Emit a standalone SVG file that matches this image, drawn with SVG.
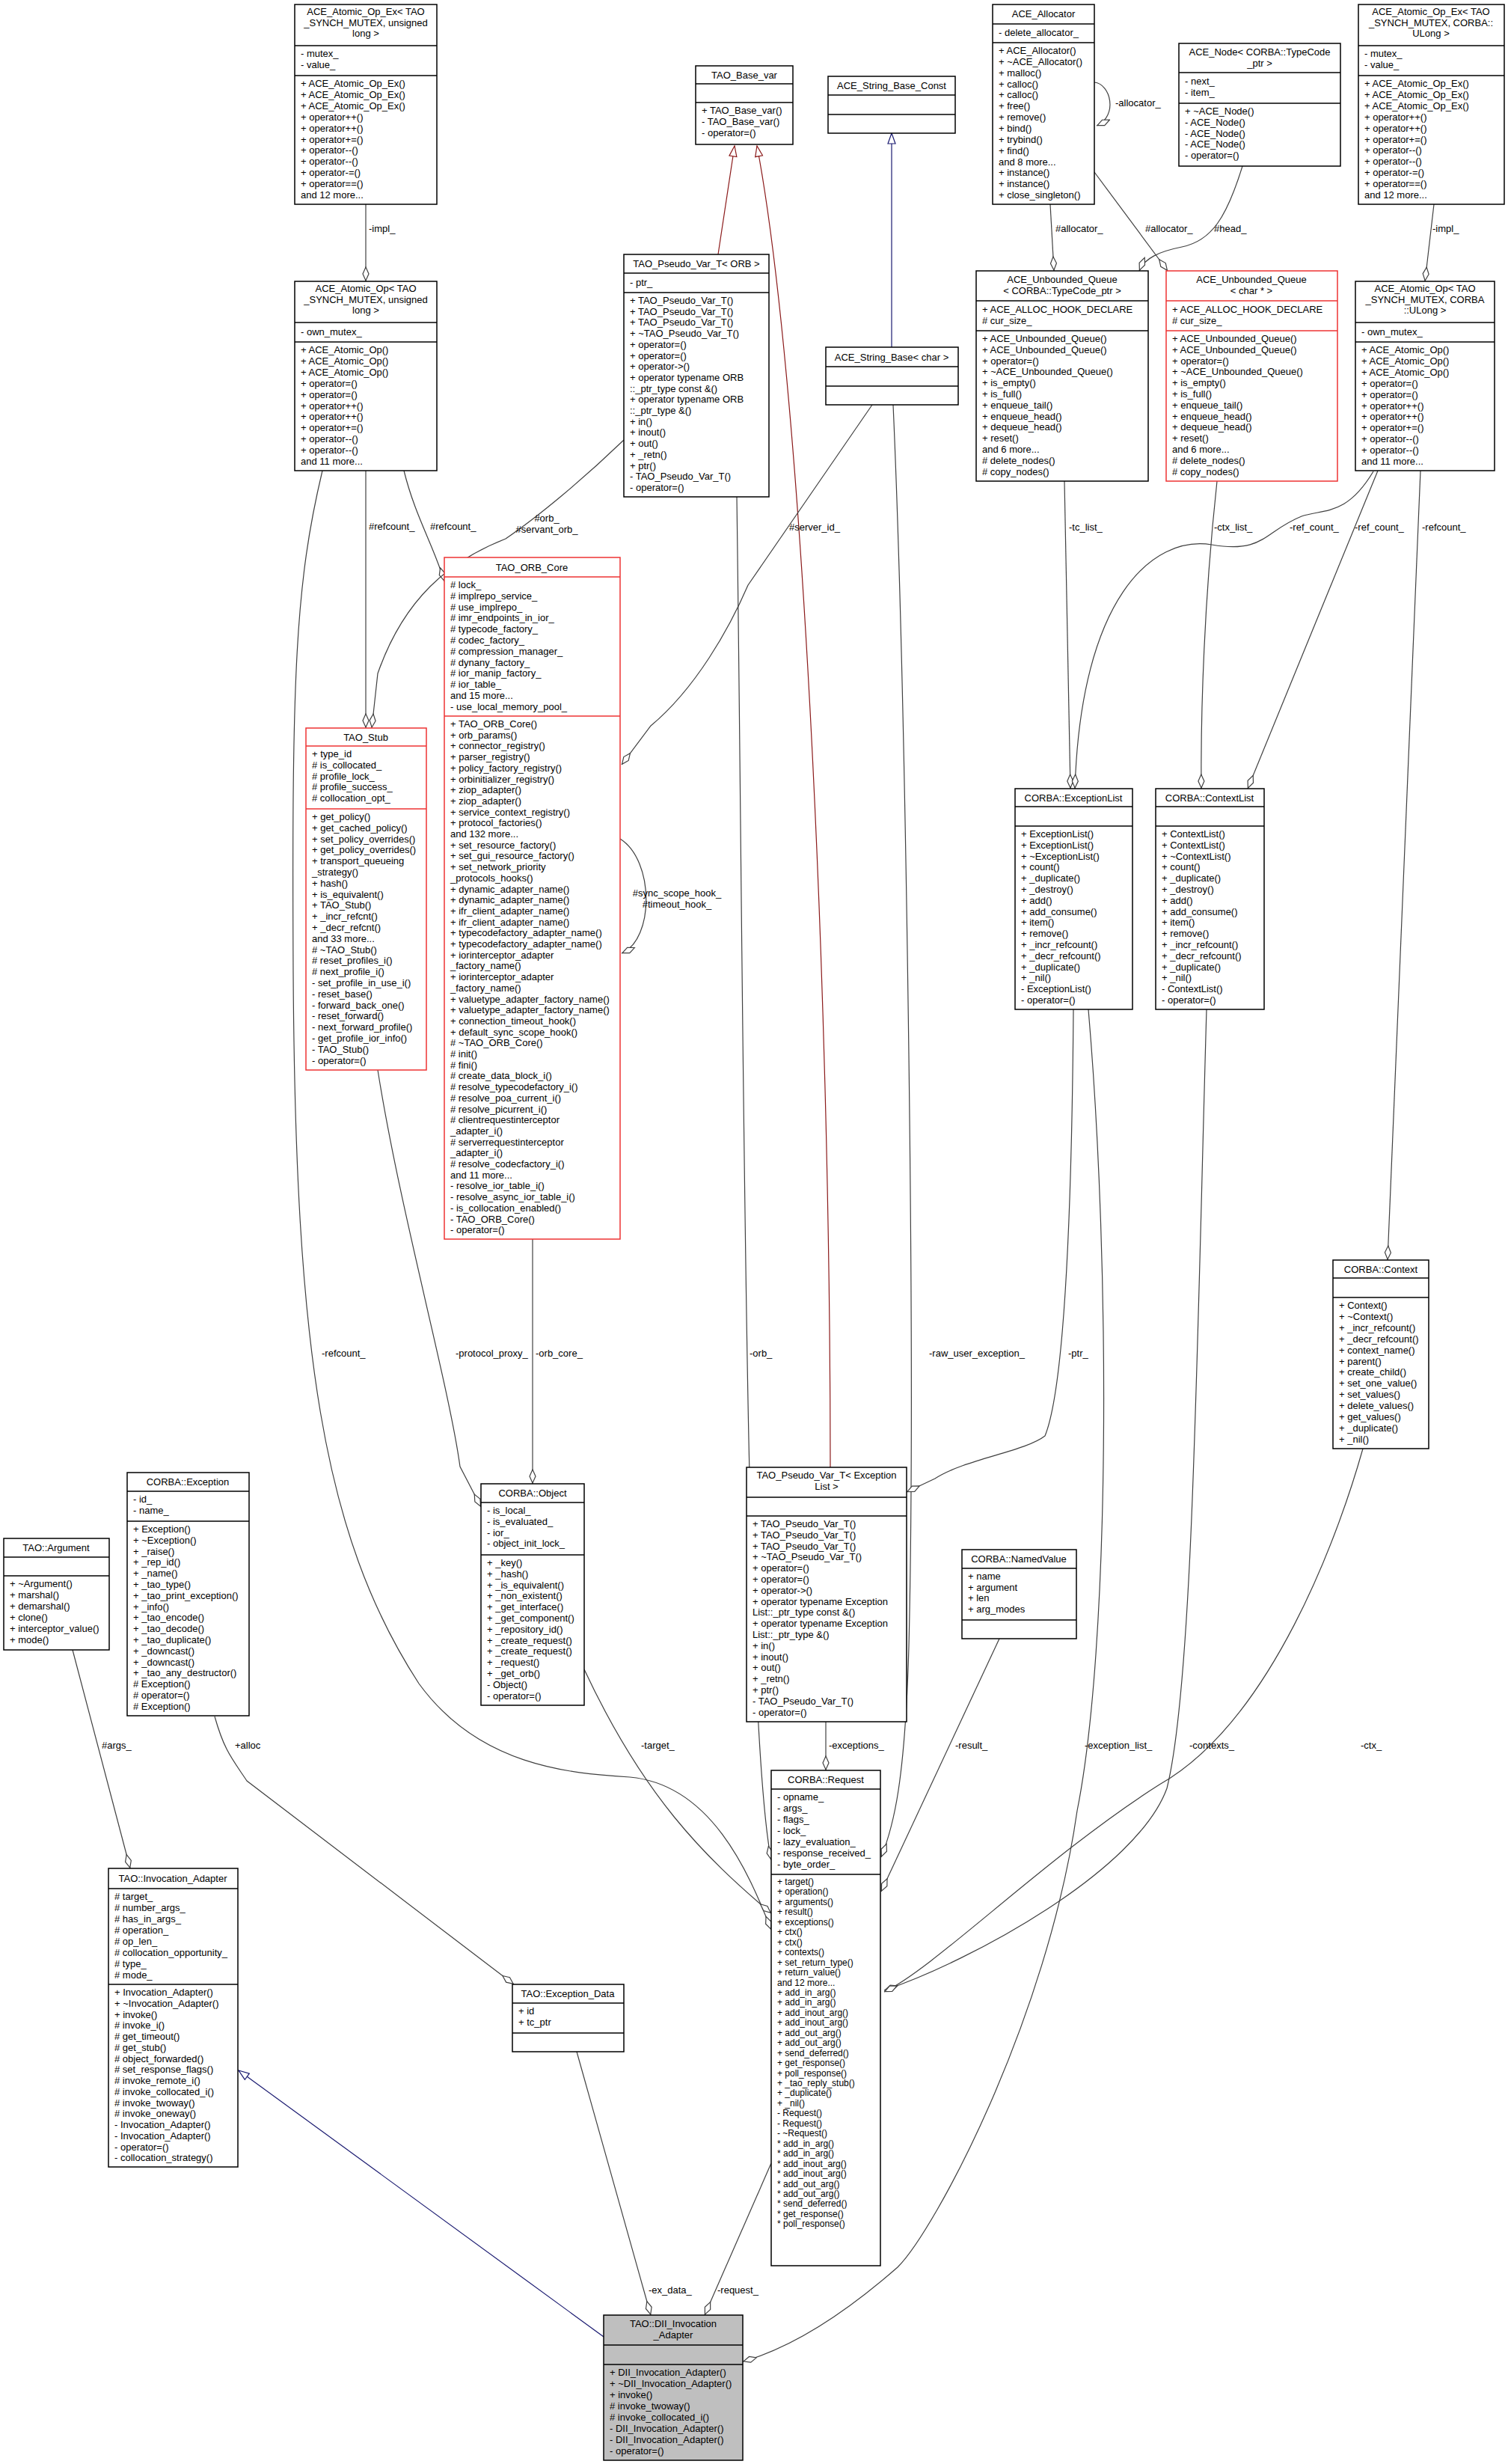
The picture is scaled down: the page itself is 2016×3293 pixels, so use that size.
<svg xmlns="http://www.w3.org/2000/svg" width="2016" height="3293" viewBox="0 0 2016 3293">
<style>
.bx{fill:#fff;stroke:#000;stroke-width:1.5}
.rd{fill:#fff;stroke:#e33;stroke-width:1.5}
.gy{fill:#bfbfbf;stroke:#000;stroke-width:1.5}
.ln{stroke:#000;stroke-width:1.5}
.lr{stroke:#e33;stroke-width:1.5}
text{font-family:"Liberation Sans",Arial,sans-serif;font-size:13px;fill:#000}
.c{text-anchor:middle}
.s{font-size:12px}
.e{fill:none;stroke:#404040;stroke-width:1.2}
.er{fill:none;stroke:#8b1a1a;stroke-width:1.2}
.eb{fill:none;stroke:#191970;stroke-width:1.2}
</style>
<defs>
<marker id="d" viewBox="0 0 20 10" refX="20" refY="5" markerWidth="20" markerHeight="10" markerUnits="userSpaceOnUse" orient="auto"><path d="M1,5 L10,1 L19,5 L10,9 Z" fill="#fff" stroke="#404040" stroke-width="1.2"/></marker>
<marker id="tr" viewBox="0 0 16 12" refX="15" refY="6" markerWidth="16" markerHeight="12" markerUnits="userSpaceOnUse" orient="auto"><path d="M1,1 L15,6 L1,11 Z" fill="#fff" stroke="#8b1a1a" stroke-width="1.2"/></marker>
<marker id="tb" viewBox="0 0 16 12" refX="15" refY="6" markerWidth="16" markerHeight="12" markerUnits="userSpaceOnUse" orient="auto"><path d="M1,1 L15,6 L1,11 Z" fill="#fff" stroke="#191970" stroke-width="1.2"/></marker>
</defs>

<g id="edges">
<path class="e" d="M489,273 L489,376" marker-end="url(#d)"/>
<path class="e" d="M1917,273 L1905,376" marker-end="url(#d)"/>
<path class="e" d="M1463,110 C1485,112 1495,155 1466,168" marker-end="url(#d)"/>
<path class="e" d="M1404,273 L1409,362" marker-end="url(#d)"/>
<path class="e" d="M1463,230 L1561,362" marker-end="url(#d)"/>
<path class="e" d="M1661,222 C1640,290 1620,322 1580,330 C1550,336 1530,345 1523,362" marker-end="url(#d)"/>
<path class="er" d="M960,340 L982,195" marker-end="url(#tr)"/>
<path class="er" d="M1110,1961 C1110,1300 1070,500 1012,195" marker-end="url(#tr)"/>
<path class="eb" d="M1192,464 L1192,178" marker-end="url(#tb)"/>
<path class="e" d="M431,629 C395,780 390,900 392,1300 C395,1800 430,2050 560,2250 C640,2360 760,2370 842,2375 C950,2385 1000,2500 1031,2579" marker-end="url(#d)"/>
<path class="e" d="M489,629 L489,973" marker-end="url(#d)"/>
<path class="e" d="M540,629 C555,690 580,730 594,777" marker-end="url(#d)"/>
<path class="e" d="M834,588 C780,640 720,690 676,720 C600,750 540,800 505,900 L497,973" marker-end="url(#d)"/>
<path class="e" d="M985,664 C995,1400 995,2300 1031,2486" marker-end="url(#d)"/>
<path class="e" d="M1166,541 L1000,782 C975,840 930,920 870,970 L831,1022" marker-end="url(#d)"/>
<path class="e" d="M1194,541 C1210,900 1225,1800 1215,2200 C1210,2380 1195,2440 1178,2482" marker-end="url(#d)"/>
<path class="e" d="M829,1121 C875,1150 875,1255 831,1274" marker-end="url(#d)"/>
<path class="e" d="M712,1656 L712,1983" marker-end="url(#d)"/>
<path class="e" d="M505,1430 C535,1620 600,1850 615,1960 L643,2014" marker-end="url(#d)"/>
<path class="e" d="M781,2231 C860,2400 940,2480 1031,2557" marker-end="url(#d)"/>
<path class="e" d="M1435,1349 C1433,1600 1425,1850 1397,1919 C1370,1940 1290,1950 1250,1976 L1212,1994" marker-end="url(#d)"/>
<path class="e" d="M1455,1349 C1485,1700 1484,2200 1440,2420 C1400,2700 1250,2980 1200,3030 C1120,3100 1050,3140 993,3156" marker-end="url(#d)"/>
<path class="e" d="M1423,643 L1431,1054" marker-end="url(#d)"/>
<path class="e" d="M1836,630 C1800,690 1770,680 1740,690 C1690,710 1690,740 1620,728 C1540,715 1445,800 1437,1054" marker-end="url(#d)"/>
<path class="e" d="M1627,643 C1610,800 1605,950 1606,1054" marker-end="url(#d)"/>
<path class="e" d="M1842,629 L1668,1054" marker-end="url(#d)"/>
<path class="e" d="M1899,629 L1855,1684" marker-end="url(#d)"/>
<path class="e" d="M1613,1349 C1600,1800 1595,2250 1560,2390 C1520,2500 1300,2620 1182,2660" marker-end="url(#d)"/>
<path class="e" d="M1822,1936 C1790,2050 1700,2300 1550,2385 C1400,2480 1250,2630 1182,2662" marker-end="url(#d)"/>
<path class="e" d="M1104,2301 L1104,2366" marker-end="url(#d)"/>
<path class="e" d="M1336,2190 L1178,2528" marker-end="url(#d)"/>
<path class="e" d="M97,2205 L174,2497" marker-end="url(#d)"/>
<path class="e" d="M287,2294 C300,2340 310,2350 330,2380 L687,2652" marker-end="url(#d)"/>
<path class="e" d="M771,2742 L870,3094" marker-end="url(#d)"/>
<path class="e" d="M1031,2891 L942,3094" marker-end="url(#d)"/>
<path class="eb" d="M807,3123 L319,2767" marker-end="url(#tb)"/>
<text x="493" y="310">-impl_</text>
<text x="1915" y="310">-impl_</text>
<text x="1491" y="142">-allocator_</text>
<text x="1411" y="310">#allocator_</text>
<text x="1531" y="310">#allocator_</text>
<text x="1623" y="310">#head_</text>
<text x="493" y="708">#refcount_</text>
<text x="575" y="708">#refcount_</text>
<text class="c" x="731" y="697">#orb_</text>
<text class="c" x="731" y="712">#servant_orb_</text>
<text x="1055" y="709">#server_id_</text>
<text x="1429" y="709">-tc_list_</text>
<text x="1623" y="709">-ctx_list_</text>
<text x="1724" y="709">-ref_count_</text>
<text x="1811" y="709">-ref_count_</text>
<text x="1901" y="709">-refcount_</text>
<text class="c" x="905" y="1198">#sync_scope_hook_</text>
<text class="c" x="905" y="1213">#timeout_hook_</text>
<text x="430" y="1813">-refcount_</text>
<text x="609" y="1813">-protocol_proxy_</text>
<text x="716" y="1813">-orb_core_</text>
<text x="1002" y="1813">-orb_</text>
<text x="1242" y="1813">-raw_user_exception_</text>
<text x="1428" y="1813">-ptr_</text>
<text x="136" y="2337">#args_</text>
<text x="314" y="2337">+alloc</text>
<text x="857" y="2337">-target_</text>
<text x="1108" y="2337">-exceptions_</text>
<text x="1277" y="2337">-result_</text>
<text x="1450" y="2337">-exception_list_</text>
<text x="1590" y="2337">-contexts_</text>
<text x="1819" y="2337">-ctx_</text>
<text x="867" y="3065">-ex_data_</text>
<text x="959" y="3065">-request_</text>
</g>

<g id="AtomicOpEx_L">
<rect class="bx" x="394" y="6" width="190" height="267"/>
<line class="ln" x1="394" y1="61" x2="584" y2="61"/><line class="ln" x1="394" y1="101" x2="584" y2="101"/>
<text class="c" x="489" y="20">ACE_Atomic_Op_Ex&lt; TAO<tspan x="489" dy="14.6">_SYNCH_MUTEX, unsigned</tspan><tspan x="489" dy="14.6">long &gt;</tspan></text>
<text x="402" y="76">- mutex_<tspan x="402" dy="14.9">- value_</tspan></text>
<text x="402" y="116">+ ACE_Atomic_Op_Ex()<tspan x="402" dy="14.9">+ ACE_Atomic_Op_Ex()</tspan><tspan x="402" dy="14.9">+ ACE_Atomic_Op_Ex()</tspan><tspan x="402" dy="14.9">+ operator++()</tspan><tspan x="402" dy="14.9">+ operator++()</tspan><tspan x="402" dy="14.9">+ operator+=()</tspan><tspan x="402" dy="14.9">+ operator--()</tspan><tspan x="402" dy="14.9">+ operator--()</tspan><tspan x="402" dy="14.9">+ operator-=()</tspan><tspan x="402" dy="14.9">+ operator==()</tspan><tspan x="402" dy="14.9">and 12 more...</tspan></text>
</g>

<g id="AtomicOp_L">
<rect class="bx" x="394" y="376" width="190" height="253"/>
<line class="ln" x1="394" y1="431" x2="584" y2="431"/><line class="ln" x1="394" y1="457" x2="584" y2="457"/>
<text class="c" x="489" y="390">ACE_Atomic_Op&lt; TAO<tspan x="489" dy="14.6">_SYNCH_MUTEX, unsigned</tspan><tspan x="489" dy="14.6">long &gt;</tspan></text>
<text x="402" y="448">- own_mutex_</text>
<text x="402" y="472">+ ACE_Atomic_Op()<tspan x="402" dy="14.9">+ ACE_Atomic_Op()</tspan><tspan x="402" dy="14.9">+ ACE_Atomic_Op()</tspan><tspan x="402" dy="14.9">+ operator=()</tspan><tspan x="402" dy="14.9">+ operator=()</tspan><tspan x="402" dy="14.9">+ operator++()</tspan><tspan x="402" dy="14.9">+ operator++()</tspan><tspan x="402" dy="14.9">+ operator+=()</tspan><tspan x="402" dy="14.9">+ operator--()</tspan><tspan x="402" dy="14.9">+ operator--()</tspan><tspan x="402" dy="14.9">and 11 more...</tspan></text>
</g>

<g id="TAO_Base_var">
<rect class="bx" x="930" y="88" width="130" height="105"/>
<line class="ln" x1="930" y1="112" x2="1060" y2="112"/><line class="ln" x1="930" y1="137" x2="1060" y2="137"/>
<text class="c" x="995" y="105">TAO_Base_var</text>
<text x="938" y="152">+ TAO_Base_var()<tspan x="938" dy="14.8">- TAO_Base_var()</tspan><tspan x="938" dy="14.8">- operator=()</tspan></text>
</g>

<g id="ACE_String_Base_Const">
<rect class="bx" x="1107" y="102" width="170" height="76"/>
<line class="ln" x1="1107" y1="127" x2="1277" y2="127"/><line class="ln" x1="1107" y1="153" x2="1277" y2="153"/>
<text class="c" x="1192" y="119">ACE_String_Base_Const</text>
</g>

<g id="ACE_Allocator">
<rect class="bx" x="1327" y="6" width="136" height="267"/>
<line class="ln" x1="1327" y1="32" x2="1463" y2="32"/><line class="ln" x1="1327" y1="57" x2="1463" y2="57"/>
<text class="c" x="1395" y="23">ACE_Allocator</text>
<text x="1335" y="48">- delete_allocator_</text>
<text x="1335" y="72">+ ACE_Allocator()<tspan x="1335" dy="14.85">+ ~ACE_Allocator()</tspan><tspan x="1335" dy="14.85">+ malloc()</tspan><tspan x="1335" dy="14.85">+ calloc()</tspan><tspan x="1335" dy="14.85">+ calloc()</tspan><tspan x="1335" dy="14.85">+ free()</tspan><tspan x="1335" dy="14.85">+ remove()</tspan><tspan x="1335" dy="14.85">+ bind()</tspan><tspan x="1335" dy="14.85">+ trybind()</tspan><tspan x="1335" dy="14.85">+ find()</tspan><tspan x="1335" dy="14.85">and 8 more...</tspan><tspan x="1335" dy="14.85">+ instance()</tspan><tspan x="1335" dy="14.85">+ instance()</tspan><tspan x="1335" dy="14.85">+ close_singleton()</tspan></text>
</g>

<g id="ACE_Node">
<rect class="bx" x="1576" y="58" width="216" height="164"/>
<line class="ln" x1="1576" y1="97" x2="1792" y2="97"/><line class="ln" x1="1576" y1="138" x2="1792" y2="138"/>
<text class="c" x="1684" y="74">ACE_Node&lt; CORBA::TypeCode<tspan x="1684" dy="14.6">_ptr &gt;</tspan></text>
<text x="1584" y="113">- next_<tspan x="1584" dy="14.8">- item_</tspan></text>
<text x="1584" y="153">+ ~ACE_Node()<tspan x="1584" dy="14.8">- ACE_Node()</tspan><tspan x="1584" dy="14.8">- ACE_Node()</tspan><tspan x="1584" dy="14.8">- ACE_Node()</tspan><tspan x="1584" dy="14.8">- operator=()</tspan></text>
</g>

<g id="AtomicOpEx_R">
<rect class="bx" x="1816" y="6" width="195" height="267"/>
<line class="ln" x1="1816" y1="61" x2="2011" y2="61"/><line class="ln" x1="1816" y1="101" x2="2011" y2="101"/>
<text class="c" x="1913" y="20">ACE_Atomic_Op_Ex&lt; TAO<tspan x="1913" dy="14.6">_SYNCH_MUTEX, CORBA::</tspan><tspan x="1913" dy="14.6">ULong &gt;</tspan></text>
<text x="1824" y="76">- mutex_<tspan x="1824" dy="14.9">- value_</tspan></text>
<text x="1824" y="116">+ ACE_Atomic_Op_Ex()<tspan x="1824" dy="14.9">+ ACE_Atomic_Op_Ex()</tspan><tspan x="1824" dy="14.9">+ ACE_Atomic_Op_Ex()</tspan><tspan x="1824" dy="14.9">+ operator++()</tspan><tspan x="1824" dy="14.9">+ operator++()</tspan><tspan x="1824" dy="14.9">+ operator+=()</tspan><tspan x="1824" dy="14.9">+ operator--()</tspan><tspan x="1824" dy="14.9">+ operator--()</tspan><tspan x="1824" dy="14.9">+ operator-=()</tspan><tspan x="1824" dy="14.9">+ operator==()</tspan><tspan x="1824" dy="14.9">and 12 more...</tspan></text>
</g>

<g id="PseudoVar_ORB">
<rect class="bx" x="834" y="340" width="194" height="324"/>
<line class="ln" x1="834" y1="365" x2="1028" y2="365"/><line class="ln" x1="834" y1="391" x2="1028" y2="391"/>
<text class="c" x="931" y="357">TAO_Pseudo_Var_T&lt; ORB &gt;</text>
<text x="842" y="382">- ptr_</text>
<text x="842" y="406">+ TAO_Pseudo_Var_T()<tspan x="842" dy="14.7">+ TAO_Pseudo_Var_T()</tspan><tspan x="842" dy="14.7">+ TAO_Pseudo_Var_T()</tspan><tspan x="842" dy="14.7">+ ~TAO_Pseudo_Var_T()</tspan><tspan x="842" dy="14.7">+ operator=()</tspan><tspan x="842" dy="14.7">+ operator=()</tspan><tspan x="842" dy="14.7">+ operator-&gt;()</tspan><tspan x="842" dy="14.7">+ operator typename ORB</tspan><tspan x="842" dy="14.7">::_ptr_type const &amp;()</tspan><tspan x="842" dy="14.7">+ operator typename ORB</tspan><tspan x="842" dy="14.7">::_ptr_type &amp;()</tspan><tspan x="842" dy="14.7">+ in()</tspan><tspan x="842" dy="14.7">+ inout()</tspan><tspan x="842" dy="14.7">+ out()</tspan><tspan x="842" dy="14.7">+ _retn()</tspan><tspan x="842" dy="14.7">+ ptr()</tspan><tspan x="842" dy="14.7">- TAO_Pseudo_Var_T()</tspan><tspan x="842" dy="14.7">- operator=()</tspan></text>
</g>

<g id="UQ_TypeCode">
<rect class="bx" x="1305" y="362" width="230" height="281"/>
<line class="ln" x1="1305" y1="402" x2="1535" y2="402"/><line class="ln" x1="1305" y1="442" x2="1535" y2="442"/>
<text class="c" x="1420" y="378">ACE_Unbounded_Queue<tspan x="1420" dy="14.6">&lt; CORBA::TypeCode_ptr &gt;</tspan></text>
<text x="1313" y="418">+ ACE_ALLOC_HOOK_DECLARE<tspan x="1313" dy="14.8"># cur_size_</tspan></text>
<text x="1313" y="457">+ ACE_Unbounded_Queue()<tspan x="1313" dy="14.8">+ ACE_Unbounded_Queue()</tspan><tspan x="1313" dy="14.8">+ operator=()</tspan><tspan x="1313" dy="14.8">+ ~ACE_Unbounded_Queue()</tspan><tspan x="1313" dy="14.8">+ is_empty()</tspan><tspan x="1313" dy="14.8">+ is_full()</tspan><tspan x="1313" dy="14.8">+ enqueue_tail()</tspan><tspan x="1313" dy="14.8">+ enqueue_head()</tspan><tspan x="1313" dy="14.8">+ dequeue_head()</tspan><tspan x="1313" dy="14.8">+ reset()</tspan><tspan x="1313" dy="14.8">and 6 more...</tspan><tspan x="1313" dy="14.8"># delete_nodes()</tspan><tspan x="1313" dy="14.8"># copy_nodes()</tspan></text>
</g>

<g id="UQ_char">
<rect class="rd" x="1559" y="362" width="229" height="281"/>
<line class="lr" x1="1559" y1="402" x2="1788" y2="402"/><line class="lr" x1="1559" y1="442" x2="1788" y2="442"/>
<text class="c" x="1673" y="378">ACE_Unbounded_Queue<tspan x="1673" dy="14.6">&lt; char * &gt;</tspan></text>
<text x="1567" y="418">+ ACE_ALLOC_HOOK_DECLARE<tspan x="1567" dy="14.8"># cur_size_</tspan></text>
<text x="1567" y="457">+ ACE_Unbounded_Queue()<tspan x="1567" dy="14.8">+ ACE_Unbounded_Queue()</tspan><tspan x="1567" dy="14.8">+ operator=()</tspan><tspan x="1567" dy="14.8">+ ~ACE_Unbounded_Queue()</tspan><tspan x="1567" dy="14.8">+ is_empty()</tspan><tspan x="1567" dy="14.8">+ is_full()</tspan><tspan x="1567" dy="14.8">+ enqueue_tail()</tspan><tspan x="1567" dy="14.8">+ enqueue_head()</tspan><tspan x="1567" dy="14.8">+ dequeue_head()</tspan><tspan x="1567" dy="14.8">+ reset()</tspan><tspan x="1567" dy="14.8">and 6 more...</tspan><tspan x="1567" dy="14.8"># delete_nodes()</tspan><tspan x="1567" dy="14.8"># copy_nodes()</tspan></text>
</g>

<g id="AtomicOp_R">
<rect class="bx" x="1812" y="376" width="186" height="253"/>
<line class="ln" x1="1812" y1="431" x2="1998" y2="431"/><line class="ln" x1="1812" y1="457" x2="1998" y2="457"/>
<text class="c" x="1905" y="390">ACE_Atomic_Op&lt; TAO<tspan x="1905" dy="14.6">_SYNCH_MUTEX, CORBA</tspan><tspan x="1905" dy="14.6">::ULong &gt;</tspan></text>
<text x="1820" y="448">- own_mutex_</text>
<text x="1820" y="472">+ ACE_Atomic_Op()<tspan x="1820" dy="14.9">+ ACE_Atomic_Op()</tspan><tspan x="1820" dy="14.9">+ ACE_Atomic_Op()</tspan><tspan x="1820" dy="14.9">+ operator=()</tspan><tspan x="1820" dy="14.9">+ operator=()</tspan><tspan x="1820" dy="14.9">+ operator++()</tspan><tspan x="1820" dy="14.9">+ operator++()</tspan><tspan x="1820" dy="14.9">+ operator+=()</tspan><tspan x="1820" dy="14.9">+ operator--()</tspan><tspan x="1820" dy="14.9">+ operator--()</tspan><tspan x="1820" dy="14.9">and 11 more...</tspan></text>
</g>

<g id="ACE_String_Base_char">
<rect class="bx" x="1104" y="464" width="177" height="77"/>
<line class="ln" x1="1104" y1="490" x2="1281" y2="490"/><line class="ln" x1="1104" y1="516" x2="1281" y2="516"/>
<text class="c" x="1192" y="482">ACE_String_Base&lt; char &gt;</text>
</g>

<g id="TAO_ORB_Core">
<rect class="rd" x="594" y="745" width="235" height="911"/>
<line class="lr" x1="594" y1="771" x2="829" y2="771"/><line class="lr" x1="594" y1="957" x2="829" y2="957"/>
<text class="c" x="711" y="763">TAO_ORB_Core</text>
<text x="602" y="786"># lock_<tspan x="602" dy="14.8"># implrepo_service_</tspan><tspan x="602" dy="14.8"># use_implrepo_</tspan><tspan x="602" dy="14.8"># imr_endpoints_in_ior_</tspan><tspan x="602" dy="14.8"># typecode_factory_</tspan><tspan x="602" dy="14.8"># codec_factory_</tspan><tspan x="602" dy="14.8"># compression_manager_</tspan><tspan x="602" dy="14.8"># dynany_factory_</tspan><tspan x="602" dy="14.8"># ior_manip_factory_</tspan><tspan x="602" dy="14.8"># ior_table_</tspan><tspan x="602" dy="14.8">and 15 more...</tspan><tspan x="602" dy="14.8">- use_local_memory_pool_</tspan></text>
<text x="602" y="972">+ TAO_ORB_Core()<tspan x="602" dy="14.7">+ orb_params()</tspan><tspan x="602" dy="14.7">+ connector_registry()</tspan><tspan x="602" dy="14.7">+ parser_registry()</tspan><tspan x="602" dy="14.7">+ policy_factory_registry()</tspan><tspan x="602" dy="14.7">+ orbinitializer_registry()</tspan><tspan x="602" dy="14.7">+ ziop_adapter()</tspan><tspan x="602" dy="14.7">+ ziop_adapter()</tspan><tspan x="602" dy="14.7">+ service_context_registry()</tspan><tspan x="602" dy="14.7">+ protocol_factories()</tspan><tspan x="602" dy="14.7">and 132 more...</tspan><tspan x="602" dy="14.7">+ set_resource_factory()</tspan><tspan x="602" dy="14.7">+ set_gui_resource_factory()</tspan><tspan x="602" dy="14.7">+ set_network_priority</tspan><tspan x="602" dy="14.7">_protocols_hooks()</tspan><tspan x="602" dy="14.7">+ dynamic_adapter_name()</tspan><tspan x="602" dy="14.7">+ dynamic_adapter_name()</tspan><tspan x="602" dy="14.7">+ ifr_client_adapter_name()</tspan><tspan x="602" dy="14.7">+ ifr_client_adapter_name()</tspan><tspan x="602" dy="14.7">+ typecodefactory_adapter_name()</tspan><tspan x="602" dy="14.7">+ typecodefactory_adapter_name()</tspan><tspan x="602" dy="14.7">+ iorinterceptor_adapter</tspan><tspan x="602" dy="14.7">_factory_name()</tspan><tspan x="602" dy="14.7">+ iorinterceptor_adapter</tspan><tspan x="602" dy="14.7">_factory_name()</tspan><tspan x="602" dy="14.7">+ valuetype_adapter_factory_name()</tspan><tspan x="602" dy="14.7">+ valuetype_adapter_factory_name()</tspan><tspan x="602" dy="14.7">+ connection_timeout_hook()</tspan><tspan x="602" dy="14.7">+ default_sync_scope_hook()</tspan><tspan x="602" dy="14.7"># ~TAO_ORB_Core()</tspan><tspan x="602" dy="14.7"># init()</tspan><tspan x="602" dy="14.7"># fini()</tspan><tspan x="602" dy="14.7"># create_data_block_i()</tspan><tspan x="602" dy="14.7"># resolve_typecodefactory_i()</tspan><tspan x="602" dy="14.7"># resolve_poa_current_i()</tspan><tspan x="602" dy="14.7"># resolve_picurrent_i()</tspan><tspan x="602" dy="14.7"># clientrequestinterceptor</tspan><tspan x="602" dy="14.7">_adapter_i()</tspan><tspan x="602" dy="14.7"># serverrequestinterceptor</tspan><tspan x="602" dy="14.7">_adapter_i()</tspan><tspan x="602" dy="14.7"># resolve_codecfactory_i()</tspan><tspan x="602" dy="14.7">and 11 more...</tspan><tspan x="602" dy="14.7">- resolve_ior_table_i()</tspan><tspan x="602" dy="14.7">- resolve_async_ior_table_i()</tspan><tspan x="602" dy="14.7">- is_collocation_enabled()</tspan><tspan x="602" dy="14.7">- TAO_ORB_Core()</tspan><tspan x="602" dy="14.7">- operator=()</tspan></text>
</g>

<g id="TAO_Stub">
<rect class="rd" x="409" y="973" width="161" height="457"/>
<line class="lr" x1="409" y1="997" x2="570" y2="997"/><line class="lr" x1="409" y1="1081" x2="570" y2="1081"/>
<text class="c" x="489" y="990">TAO_Stub</text>
<text x="417" y="1012">+ type_id<tspan x="417" dy="14.8"># is_collocated_</tspan><tspan x="417" dy="14.8"># profile_lock_</tspan><tspan x="417" dy="14.8"># profile_success_</tspan><tspan x="417" dy="14.8"># collocation_opt_</tspan></text>
<text x="417" y="1096">+ get_policy()<tspan x="417" dy="14.8">+ get_cached_policy()</tspan><tspan x="417" dy="14.8">+ set_policy_overrides()</tspan><tspan x="417" dy="14.8">+ get_policy_overrides()</tspan><tspan x="417" dy="14.8">+ transport_queueing</tspan><tspan x="417" dy="14.8">_strategy()</tspan><tspan x="417" dy="14.8">+ hash()</tspan><tspan x="417" dy="14.8">+ is_equivalent()</tspan><tspan x="417" dy="14.8">+ TAO_Stub()</tspan><tspan x="417" dy="14.8">+ _incr_refcnt()</tspan><tspan x="417" dy="14.8">+ _decr_refcnt()</tspan><tspan x="417" dy="14.8">and 33 more...</tspan><tspan x="417" dy="14.8"># ~TAO_Stub()</tspan><tspan x="417" dy="14.8"># reset_profiles_i()</tspan><tspan x="417" dy="14.8"># next_profile_i()</tspan><tspan x="417" dy="14.8">- set_profile_in_use_i()</tspan><tspan x="417" dy="14.8">- reset_base()</tspan><tspan x="417" dy="14.8">- forward_back_one()</tspan><tspan x="417" dy="14.8">- reset_forward()</tspan><tspan x="417" dy="14.8">- next_forward_profile()</tspan><tspan x="417" dy="14.8">- get_profile_ior_info()</tspan><tspan x="417" dy="14.8">- TAO_Stub()</tspan><tspan x="417" dy="14.8">- operator=()</tspan></text>
</g>

<g id="ExceptionList">
<rect class="bx" x="1357" y="1054" width="157" height="295"/>
<line class="ln" x1="1357" y1="1078" x2="1514" y2="1078"/><line class="ln" x1="1357" y1="1104" x2="1514" y2="1104"/>
<text class="c" x="1435" y="1071">CORBA::ExceptionList</text>
<text x="1365" y="1119">+ ExceptionList()<tspan x="1365" dy="14.8">+ ExceptionList()</tspan><tspan x="1365" dy="14.8">+ ~ExceptionList()</tspan><tspan x="1365" dy="14.8">+ count()</tspan><tspan x="1365" dy="14.8">+ _duplicate()</tspan><tspan x="1365" dy="14.8">+ _destroy()</tspan><tspan x="1365" dy="14.8">+ add()</tspan><tspan x="1365" dy="14.8">+ add_consume()</tspan><tspan x="1365" dy="14.8">+ item()</tspan><tspan x="1365" dy="14.8">+ remove()</tspan><tspan x="1365" dy="14.8">+ _incr_refcount()</tspan><tspan x="1365" dy="14.8">+ _decr_refcount()</tspan><tspan x="1365" dy="14.8">+ _duplicate()</tspan><tspan x="1365" dy="14.8">+ _nil()</tspan><tspan x="1365" dy="14.8">- ExceptionList()</tspan><tspan x="1365" dy="14.8">- operator=()</tspan></text>
</g>

<g id="ContextList">
<rect class="bx" x="1545" y="1054" width="145" height="295"/>
<line class="ln" x1="1545" y1="1078" x2="1690" y2="1078"/><line class="ln" x1="1545" y1="1104" x2="1690" y2="1104"/>
<text class="c" x="1617" y="1071">CORBA::ContextList</text>
<text x="1553" y="1119">+ ContextList()<tspan x="1553" dy="14.8">+ ContextList()</tspan><tspan x="1553" dy="14.8">+ ~ContextList()</tspan><tspan x="1553" dy="14.8">+ count()</tspan><tspan x="1553" dy="14.8">+ _duplicate()</tspan><tspan x="1553" dy="14.8">+ _destroy()</tspan><tspan x="1553" dy="14.8">+ add()</tspan><tspan x="1553" dy="14.8">+ add_consume()</tspan><tspan x="1553" dy="14.8">+ item()</tspan><tspan x="1553" dy="14.8">+ remove()</tspan><tspan x="1553" dy="14.8">+ _incr_refcount()</tspan><tspan x="1553" dy="14.8">+ _decr_refcount()</tspan><tspan x="1553" dy="14.8">+ _duplicate()</tspan><tspan x="1553" dy="14.8">+ _nil()</tspan><tspan x="1553" dy="14.8">- ContextList()</tspan><tspan x="1553" dy="14.8">- operator=()</tspan></text>
</g>

<g id="Context">
<rect class="bx" x="1782" y="1684" width="128" height="252"/>
<line class="ln" x1="1782" y1="1708" x2="1910" y2="1708"/><line class="ln" x1="1782" y1="1734" x2="1910" y2="1734"/>
<text class="c" x="1846" y="1701">CORBA::Context</text>
<text x="1790" y="1749">+ Context()<tspan x="1790" dy="14.9">+ ~Context()</tspan><tspan x="1790" dy="14.9">+ _incr_refcount()</tspan><tspan x="1790" dy="14.9">+ _decr_refcount()</tspan><tspan x="1790" dy="14.9">+ context_name()</tspan><tspan x="1790" dy="14.9">+ parent()</tspan><tspan x="1790" dy="14.9">+ create_child()</tspan><tspan x="1790" dy="14.9">+ set_one_value()</tspan><tspan x="1790" dy="14.9">+ set_values()</tspan><tspan x="1790" dy="14.9">+ delete_values()</tspan><tspan x="1790" dy="14.9">+ get_values()</tspan><tspan x="1790" dy="14.9">+ _duplicate()</tspan><tspan x="1790" dy="14.9">+ _nil()</tspan></text>
</g>

<g id="CORBA_Object">
<rect class="bx" x="643" y="1983" width="138" height="296"/>
<line class="ln" x1="643" y1="2008" x2="781" y2="2008"/><line class="ln" x1="643" y1="2078" x2="781" y2="2078"/>
<text class="c" x="712" y="2000">CORBA::Object</text>
<text x="651" y="2023">- is_local_<tspan x="651" dy="14.8">- is_evaluated_</tspan><tspan x="651" dy="14.8">- ior_</tspan><tspan x="651" dy="14.8">- object_init_lock_</tspan></text>
<text x="651" y="2093">+ _key()<tspan x="651" dy="14.8">+ _hash()</tspan><tspan x="651" dy="14.8">+ _is_equivalent()</tspan><tspan x="651" dy="14.8">+ _non_existent()</tspan><tspan x="651" dy="14.8">+ _get_interface()</tspan><tspan x="651" dy="14.8">+ _get_component()</tspan><tspan x="651" dy="14.8">+ _repository_id()</tspan><tspan x="651" dy="14.8">+ _create_request()</tspan><tspan x="651" dy="14.8">+ _create_request()</tspan><tspan x="651" dy="14.8">+ _request()</tspan><tspan x="651" dy="14.8">+ _get_orb()</tspan><tspan x="651" dy="14.8">- Object()</tspan><tspan x="651" dy="14.8">- operator=()</tspan></text>
</g>

<g id="PseudoVar_ExceptionList">
<rect class="bx" x="998" y="1961" width="214" height="340"/>
<line class="ln" x1="998" y1="2001" x2="1212" y2="2001"/><line class="ln" x1="998" y1="2026" x2="1212" y2="2026"/>
<text class="c" x="1105" y="1976">TAO_Pseudo_Var_T&lt; Exception<tspan x="1105" dy="14.6">List &gt;</tspan></text>
<text x="1006" y="2041">+ TAO_Pseudo_Var_T()<tspan x="1006" dy="14.8">+ TAO_Pseudo_Var_T()</tspan><tspan x="1006" dy="14.8">+ TAO_Pseudo_Var_T()</tspan><tspan x="1006" dy="14.8">+ ~TAO_Pseudo_Var_T()</tspan><tspan x="1006" dy="14.8">+ operator=()</tspan><tspan x="1006" dy="14.8">+ operator=()</tspan><tspan x="1006" dy="14.8">+ operator-&gt;()</tspan><tspan x="1006" dy="14.8">+ operator typename Exception</tspan><tspan x="1006" dy="14.8">List::_ptr_type const &amp;()</tspan><tspan x="1006" dy="14.8">+ operator typename Exception</tspan><tspan x="1006" dy="14.8">List::_ptr_type &amp;()</tspan><tspan x="1006" dy="14.8">+ in()</tspan><tspan x="1006" dy="14.8">+ inout()</tspan><tspan x="1006" dy="14.8">+ out()</tspan><tspan x="1006" dy="14.8">+ _retn()</tspan><tspan x="1006" dy="14.8">+ ptr()</tspan><tspan x="1006" dy="14.8">- TAO_Pseudo_Var_T()</tspan><tspan x="1006" dy="14.8">- operator=()</tspan></text>
</g>

<g id="CORBA_Exception">
<rect class="bx" x="170" y="1968" width="163" height="325"/>
<line class="ln" x1="170" y1="1993" x2="333" y2="1993"/><line class="ln" x1="170" y1="2033" x2="333" y2="2033"/>
<text class="c" x="251" y="1985">CORBA::Exception</text>
<text x="178" y="2008">- id_<tspan x="178" dy="14.8">- name_</tspan></text>
<text x="178" y="2048">+ Exception()<tspan x="178" dy="14.8">+ ~Exception()</tspan><tspan x="178" dy="14.8">+ _raise()</tspan><tspan x="178" dy="14.8">+ _rep_id()</tspan><tspan x="178" dy="14.8">+ _name()</tspan><tspan x="178" dy="14.8">+ _tao_type()</tspan><tspan x="178" dy="14.8">+ _tao_print_exception()</tspan><tspan x="178" dy="14.8">+ _info()</tspan><tspan x="178" dy="14.8">+ _tao_encode()</tspan><tspan x="178" dy="14.8">+ _tao_decode()</tspan><tspan x="178" dy="14.8">+ _tao_duplicate()</tspan><tspan x="178" dy="14.8">+ _downcast()</tspan><tspan x="178" dy="14.8">+ _downcast()</tspan><tspan x="178" dy="14.8">+ _tao_any_destructor()</tspan><tspan x="178" dy="14.8"># Exception()</tspan><tspan x="178" dy="14.8"># operator=()</tspan><tspan x="178" dy="14.8"># Exception()</tspan></text>
</g>

<g id="TAO_Argument">
<rect class="bx" x="5" y="2056" width="141" height="149"/>
<line class="ln" x1="5" y1="2081" x2="146" y2="2081"/><line class="ln" x1="5" y1="2106" x2="146" y2="2106"/>
<text class="c" x="75" y="2073">TAO::Argument</text>
<text x="13" y="2121">+ ~Argument()<tspan x="13" dy="15">+ marshal()</tspan><tspan x="13" dy="15">+ demarshal()</tspan><tspan x="13" dy="15">+ clone()</tspan><tspan x="13" dy="15">+ interceptor_value()</tspan><tspan x="13" dy="15">+ mode()</tspan></text>
</g>

<g id="NamedValue">
<rect class="bx" x="1286" y="2071" width="153" height="119"/>
<line class="ln" x1="1286" y1="2096" x2="1439" y2="2096"/><line class="ln" x1="1286" y1="2165" x2="1439" y2="2165"/>
<text class="c" x="1362" y="2088">CORBA::NamedValue</text>
<text x="1294" y="2111">+ name<tspan x="1294" dy="14.6">+ argument</tspan><tspan x="1294" dy="14.6">+ len</tspan><tspan x="1294" dy="14.6">+ arg_modes</tspan></text>
</g>

<g id="CORBA_Request">
<rect class="bx" x="1031" y="2366" width="146" height="662"/>
<line class="ln" x1="1031" y1="2391" x2="1177" y2="2391"/><line class="ln" x1="1031" y1="2505" x2="1177" y2="2505"/>
<text class="c" x="1104" y="2383">CORBA::Request</text>
<text x="1039" y="2406">- opname_<tspan x="1039" dy="15">- args_</tspan><tspan x="1039" dy="15">- flags_</tspan><tspan x="1039" dy="15">- lock_</tspan><tspan x="1039" dy="15">- lazy_evaluation_</tspan><tspan x="1039" dy="15">- response_received_</tspan><tspan x="1039" dy="15">- byte_order_</tspan></text>
<text class="s" x="1039" y="2519">+ target()<tspan x="1039" dy="13.45">+ operation()</tspan><tspan x="1039" dy="13.45">+ arguments()</tspan><tspan x="1039" dy="13.45">+ result()</tspan><tspan x="1039" dy="13.45">+ exceptions()</tspan><tspan x="1039" dy="13.45">+ ctx()</tspan><tspan x="1039" dy="13.45">+ ctx()</tspan><tspan x="1039" dy="13.45">+ contexts()</tspan><tspan x="1039" dy="13.45">+ set_return_type()</tspan><tspan x="1039" dy="13.45">+ return_value()</tspan><tspan x="1039" dy="13.45">and 12 more...</tspan><tspan x="1039" dy="13.45">+ add_in_arg()</tspan><tspan x="1039" dy="13.45">+ add_in_arg()</tspan><tspan x="1039" dy="13.45">+ add_inout_arg()</tspan><tspan x="1039" dy="13.45">+ add_inout_arg()</tspan><tspan x="1039" dy="13.45">+ add_out_arg()</tspan><tspan x="1039" dy="13.45">+ add_out_arg()</tspan><tspan x="1039" dy="13.45">+ send_deferred()</tspan><tspan x="1039" dy="13.45">+ get_response()</tspan><tspan x="1039" dy="13.45">+ poll_response()</tspan><tspan x="1039" dy="13.45">+ _tao_reply_stub()</tspan><tspan x="1039" dy="13.45">+ _duplicate()</tspan><tspan x="1039" dy="13.45">+ _nil()</tspan><tspan x="1039" dy="13.45">- Request()</tspan><tspan x="1039" dy="13.45">- Request()</tspan><tspan x="1039" dy="13.45">- ~Request()</tspan><tspan x="1039" dy="13.45">* add_in_arg()</tspan><tspan x="1039" dy="13.45">* add_in_arg()</tspan><tspan x="1039" dy="13.45">* add_inout_arg()</tspan><tspan x="1039" dy="13.45">* add_inout_arg()</tspan><tspan x="1039" dy="13.45">* add_out_arg()</tspan><tspan x="1039" dy="13.45">* add_out_arg()</tspan><tspan x="1039" dy="13.45">* send_deferred()</tspan><tspan x="1039" dy="13.45">* get_response()</tspan><tspan x="1039" dy="13.45">* poll_response()</tspan></text>
</g>

<g id="Invocation_Adapter">
<rect class="bx" x="145" y="2497" width="173" height="399"/>
<line class="ln" x1="145" y1="2524" x2="318" y2="2524"/><line class="ln" x1="145" y1="2652" x2="318" y2="2652"/>
<text class="c" x="231" y="2515">TAO::Invocation_Adapter</text>
<text x="153" y="2539"># target_<tspan x="153" dy="15">#&#160;number_args_</tspan><tspan x="153" dy="15"># has_in_args_</tspan><tspan x="153" dy="15"># operation_</tspan><tspan x="153" dy="15"># op_len_</tspan><tspan x="153" dy="15"># collocation_opportunity_</tspan><tspan x="153" dy="15"># type_</tspan><tspan x="153" dy="15"># mode_</tspan></text>
<text x="153" y="2667">+ Invocation_Adapter()<tspan x="153" dy="14.75">+ ~Invocation_Adapter()</tspan><tspan x="153" dy="14.75">+ invoke()</tspan><tspan x="153" dy="14.75"># invoke_i()</tspan><tspan x="153" dy="14.75"># get_timeout()</tspan><tspan x="153" dy="14.75"># get_stub()</tspan><tspan x="153" dy="14.75"># object_forwarded()</tspan><tspan x="153" dy="14.75"># set_response_flags()</tspan><tspan x="153" dy="14.75"># invoke_remote_i()</tspan><tspan x="153" dy="14.75"># invoke_collocated_i()</tspan><tspan x="153" dy="14.75"># invoke_twoway()</tspan><tspan x="153" dy="14.75"># invoke_oneway()</tspan><tspan x="153" dy="14.75">- Invocation_Adapter()</tspan><tspan x="153" dy="14.75">- Invocation_Adapter()</tspan><tspan x="153" dy="14.75">- operator=()</tspan><tspan x="153" dy="14.75">- collocation_strategy()</tspan></text>
</g>

<g id="Exception_Data">
<rect class="bx" x="685" y="2652" width="149" height="90"/>
<line class="ln" x1="685" y1="2677" x2="834" y2="2677"/><line class="ln" x1="685" y1="2717" x2="834" y2="2717"/>
<text class="c" x="759" y="2669">TAO::Exception_Data</text>
<text x="693" y="2692">+ id<tspan x="693" dy="14.8">+ tc_ptr</tspan></text>
</g>

<g id="DII_Invocation_Adapter">
<rect class="gy" x="807" y="3094" width="186" height="194"/>
<line class="ln" x1="807" y1="3134" x2="993" y2="3134"/><line class="ln" x1="807" y1="3160" x2="993" y2="3160"/>
<text class="c" x="900" y="3110">TAO::DII_Invocation<tspan x="900" dy="14.6">_Adapter</tspan></text>
<text x="815" y="3175">+ DII_Invocation_Adapter()<tspan x="815" dy="15">+ ~DII_Invocation_Adapter()</tspan><tspan x="815" dy="15">+ invoke()</tspan><tspan x="815" dy="15"># invoke_twoway()</tspan><tspan x="815" dy="15"># invoke_collocated_i()</tspan><tspan x="815" dy="15">- DII_Invocation_Adapter()</tspan><tspan x="815" dy="15">- DII_Invocation_Adapter()</tspan><tspan x="815" dy="15">- operator=()</tspan></text>
</g>
</svg>
